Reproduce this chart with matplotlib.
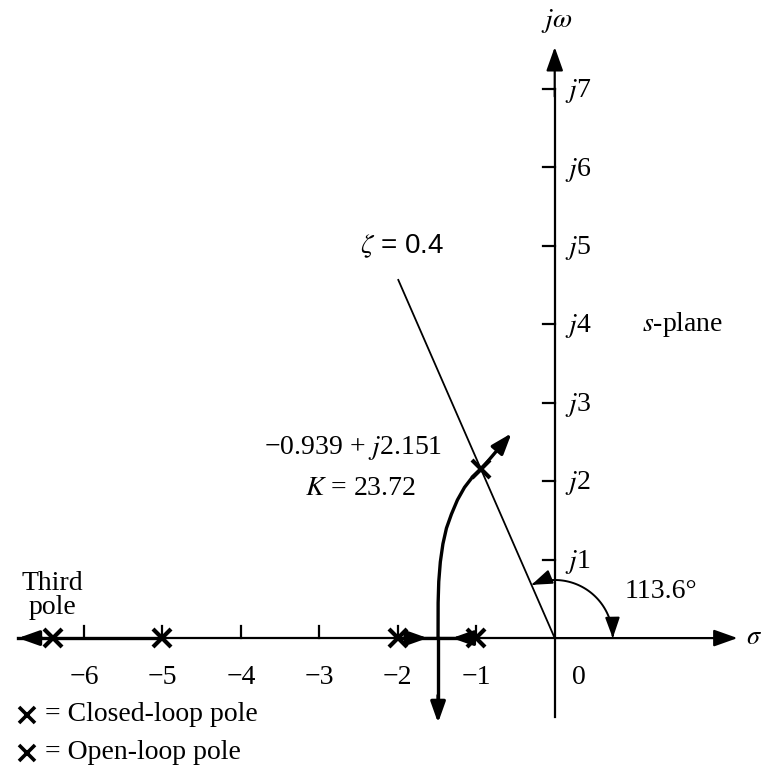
"""
Root locus sketch in the s-plane with the zeta = 0.4 damping line,
the design point and the third closed-loop pole.
"""
import matplotlib
matplotlib.use("Agg")
import matplotlib.pyplot as plt
import numpy as np
from matplotlib.patches import FancyArrowPatch
from matplotlib.path import Path

plt.rcParams["font.family"] = ["Liberation Serif", "DejaVu Serif"]
plt.rcParams["mathtext.fontset"] = "stix"

# open-loop poles on the real axis
open_loop_poles = [-5.0, -2.0, -1.0]
# closed-loop poles: third pole and the design point
third_pole = -6.4
design_pole = (-0.939, 2.151)
design_gain = 23.72
zeta = 0.4
zeta_angle = 113.6            # degrees from the positive real axis

# upper complex branch, from the breakaway point out past the design point
branch_x = [-1.487, -1.486, -1.478, -1.458, -1.425, -1.38, -1.316, -1.24, -1.15,
            -1.05, -0.939, -0.55]
branch_y = [0.0, 0.45, 0.72, 0.97, 1.20, 1.40, 1.58, 1.76, 1.92,
            2.05, 2.151, 2.61]
# lower branch leaves the breakaway point straight down
lower_branch_end = -1.08

# real-axis segments of the locus
left_segment = [-6.84, -5.0]
middle_segment = [-2.0, -1.0]

x_ticks = [-6, -5, -4, -3, -2, -1]
y_ticks = [1, 2, 3, 4, 5, 6, 7]

INK = "black"
LOCUS_LW = 2.4
AXIS_LW = 1.6


def arrow(ax, start, end, lw=AXIS_LW, scale=16):
    ax.annotate("", xy=end, xytext=start,
                arrowprops=dict(arrowstyle="-|>,head_length=0.9,head_width=0.32",
                                color=INK, lw=lw, mutation_scale=scale,
                                shrinkA=0, shrinkB=0))


fig = plt.figure(figsize=(7.65, 7.77), dpi=100)
ax = fig.add_axes([0, 0, 1, 1])
ax.set_xlim(-7.07, 2.68)
ax.set_ylim(-1.77, 8.13)
ax.set_axis_off()

# ── axes of the s-plane ──────────────────────────────────────────────
ax.plot([-5.0, 0.0], [0, 0], color=INK, lw=AXIS_LW)
arrow(ax, (0.0, 0.0), (2.33, 0.0))
ax.plot([0, 0], [-1.0, 7.0], color=INK, lw=AXIS_LW)
arrow(ax, (0.0, 6.9), (0.0, 7.53))
for t in x_ticks:
    ax.plot([t, t], [0, 0.15], color=INK, lw=AXIS_LW)
for t in y_ticks:
    ax.plot([-0.15, 0], [t, t], color=INK, lw=AXIS_LW)
    ax.text(0.13, t - 0.03, f"$j${t}", fontsize=20, va="center", ha="left")
for t in x_ticks:
    ax.text(t, -0.5, f"\u2212{-t}", fontsize=20, va="center", ha="center")
ax.text(0.31, -0.5, "0", fontsize=20, va="center", ha="center")
ax.text(0.03, 7.86, r"$j\omega$", fontsize=20, va="center", ha="center")
ax.text(2.44, 0.0, r"$\sigma$", fontsize=19, va="center", ha="left")
ax.text(1.11, 4.0, "$s$-plane", fontsize=20, va="center", ha="left")

# ── root locus ───────────────────────────────────────────────────────
ax.plot(left_segment, [0, 0], color=INK, lw=LOCUS_LW)
arrow(ax, (left_segment[0] + 0.3, 0), (left_segment[0], 0), lw=LOCUS_LW, scale=14)
ax.plot(middle_segment, [0, 0], color=INK, lw=LOCUS_LW)
arrow(ax, (-1.89, 0), (-1.62, 0), lw=LOCUS_LW, scale=14)
arrow(ax, (-1.08, 0), (-1.31, 0), lw=LOCUS_LW, scale=14)

ax.plot(branch_x[:-1], branch_y[:-1], color=INK, lw=LOCUS_LW,
        solid_joinstyle="round", solid_capstyle="butt")
arrow(ax, (branch_x[-2], branch_y[-2]), (branch_x[-1], branch_y[-1]), lw=LOCUS_LW, scale=14)
ax.plot([branch_x[0], branch_x[0]], [0, lower_branch_end + 0.3], color=INK, lw=LOCUS_LW)
arrow(ax, (branch_x[0], lower_branch_end + 0.35), (branch_x[0], lower_branch_end),
      lw=LOCUS_LW, scale=14)

# poles
ax.plot(open_loop_poles, [0] * len(open_loop_poles), ls="none", marker="x",
        ms=13, mew=3, color=INK)
ax.plot([third_pole, design_pole[0]], [0, design_pole[1]], ls="none", marker="x",
        ms=13, mew=3, color=INK)

# ── damping ratio line and angle ─────────────────────────────────────
theta = np.deg2rad(zeta_angle)
r_end = 4.98
ax.plot([0, r_end * np.cos(theta)], [0, r_end * np.sin(theta)], color=INK, lw=1.3)
ax.text(-2.48, 4.99, r"$\zeta$ = 0.4", fontsize=20, va="center", ha="left",
        family=["Liberation Sans", "DejaVu Sans"])

r_arc = 0.74
phi = np.linspace(theta, 0, 60)
arc = Path(np.column_stack([r_arc * np.cos(phi), r_arc * np.sin(phi)]))
ax.add_patch(FancyArrowPatch(path=arc, arrowstyle="<|-|>,head_length=0.9,head_width=0.32",
                             mutation_scale=14, color=INK, lw=1.4))
ax.text(0.89, 0.59, f"{zeta_angle}\u00b0", fontsize=20, va="center", ha="left")

# ── annotations ──────────────────────────────────────────────────────
ax.text(-1.44, 2.42, f"\u2212{-design_pole[0]} + $j${design_pole[1]}", fontsize=20,
        va="center", ha="right")
ax.text(-2.48, 1.91, f"$K$ = {design_gain}", fontsize=20, va="center", ha="center")
ax.text(third_pole, 0.54, "Third\npole", fontsize=20, va="center", ha="center",
        linespacing=0.95)

# pole legend
for yy, label in [(-0.98, "= Closed-loop pole"), (-1.46, "= Open-loop pole")]:
    ax.plot([-6.73], [yy], ls="none", marker="x", ms=12, mew=2.6, color=INK)
    ax.text(-6.5, yy, label, fontsize=20, va="center", ha="left")

fig.savefig("out.png", dpi=100)
